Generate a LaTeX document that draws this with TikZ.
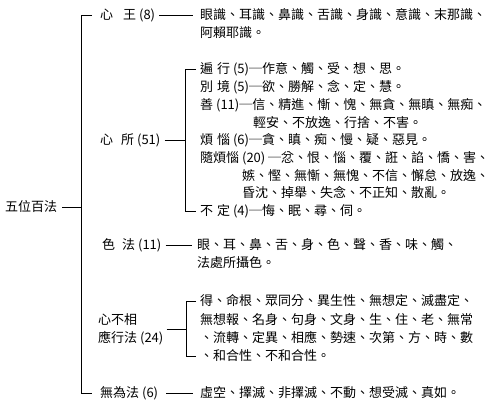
\documentclass[tikz,border=0pt]{standalone}
\usepackage{fontspec}
\setmainfont{Noto Sans CJK TC}
\begin{document}
\begin{tikzpicture}[x=1pt,y=-1pt,
  lbl/.style={anchor=west, inner xsep=2pt, inner ysep=0pt, text height=11pt, text depth=1.5pt, font=\fontsize{13pt}{18pt}\selectfont},
  mlbl/.style={anchor=west, inner xsep=2pt, inner ysep=0pt, align=left, font=\fontsize{13pt}{18pt}\selectfont},
  ln/.style={line width=1pt, line cap=butt}]
\fill[white] (0,0) rectangle (493,410);
\useasboundingbox (0,0) rectangle (493,410);
% root
\node[lbl] (root) at (3,207) {五位百法};
% 心王
\node[lbl] (xw)  at (98,15) {心\hspace{10pt}王 (8)};
\node[lbl] (xwa) at (198,15) {眼識、耳識、鼻識、舌識、身識、意識、末那識、};
\node[lbl] (xwb) at (198,33) {阿賴耶識。};
% 心所
\node[lbl] (xs)  at (98,140) {心\hspace{8pt}所 (51)};
\node[lbl] (bx)  at (198,69) {遍\hspace{4pt}行 (5)─作意、觸、受、想、思。};
\node[lbl] (bj)  at (198,87) {別\hspace{4pt}境 (5)─欲、勝解、念、定、慧。};
\node[lbl] (sh)  at (198,105) {善 (11)─信、精進、慚、愧、無貪、無瞋、無痴、};
\node[lbl] (sh2) at (251,123) {輕安、不放逸、行捨、不害。};
\node[lbl] (fn)  at (198,140) {煩\hspace{4pt}惱 (6)─貪、瞋、痴、慢、疑、惡見。};
\node[lbl] (sf)  at (198,158) {隨煩惱 (20) ─忿、恨、惱、覆、誑、諂、憍、害、};
\node[lbl] (sf2) at (240,176) {嫉、慳、無慚、無愧、不信、懈怠、放逸、};
\node[lbl] (sf3) at (240,193) {昏沈、掉舉、失念、不正知、散亂。};
\node[lbl] (bd)  at (198,211) {不\hspace{4pt}定 (4)─悔、眠、尋、伺。};
% 色法
\node[lbl] (sefa)  at (100,245) {色\hspace{7pt}法 (11)};
\node[lbl] (sefa1) at (195,245) {眼、耳、鼻、舌、身、色、聲、香、味、觸、};
\node[lbl] (sefa2) at (195,263) {法處所攝色。};
% 心不相應行法
\node[mlbl] (bxy) at (96,329) {心不相\\應行法 (24)};
\node[lbl] (bxy1) at (198,301) {得、命根、眾同分、異生性、無想定、滅盡定、};
\node[lbl] (bxy2) at (198,320) {無想報、名身、句身、文身、生、住、老、無常};
\node[lbl] (bxy3) at (198,338) {、流轉、定異、相應、勢速、次第、方、時、數};
\node[lbl] (bxy4) at (198,356) {、和合性、不和合性。};
% 無為法
\node[lbl] (ww)  at (98,393) {無為法 (6)};
\node[lbl] (ww1) at (198,393) {虛空、擇滅、非擇滅、不動、想受滅、真如。};
% helper coordinates
\coordinate (trunk) at (81,0);
\coordinate (subA) at (185,0);
\coordinate (subB) at (186,0);
% connectors
\draw[ln, shorten <=3pt] (root.east) -- (root.east -| trunk);
\draw[ln, shorten <=6pt, shorten >=6pt] (xw.west) -- (xw.west -| trunk) -- (ww.west -| trunk) -- (ww.west);
\draw[ln, shorten <=2pt, shorten >=5pt] (xw.east) -- (xwa.west);
\draw[ln, shorten <=2pt] (xs.east) -- (xs.east -| subA);
\draw[ln, shorten <=2pt, shorten >=2pt] (bx.west) -- (bx.west -| subA) -- (bd.west -| subA) -- (bd.west);
\draw[ln, shorten <=2pt, shorten >=3pt] (sefa.east) -- (sefa1.west);
\draw[ln, shorten <=1pt] (bxy.east) -- (bxy.east -| subB);
\draw[ln, shorten <=2pt, shorten >=2pt] (bxy1.west) -- (bxy1.west -| subB) -- (bxy4.west -| subB) -- (bxy4.west);
\draw[ln, shorten <=6pt, shorten >=5pt] (ww.east) -- (ww1.west);
\end{tikzpicture}
\end{document}
